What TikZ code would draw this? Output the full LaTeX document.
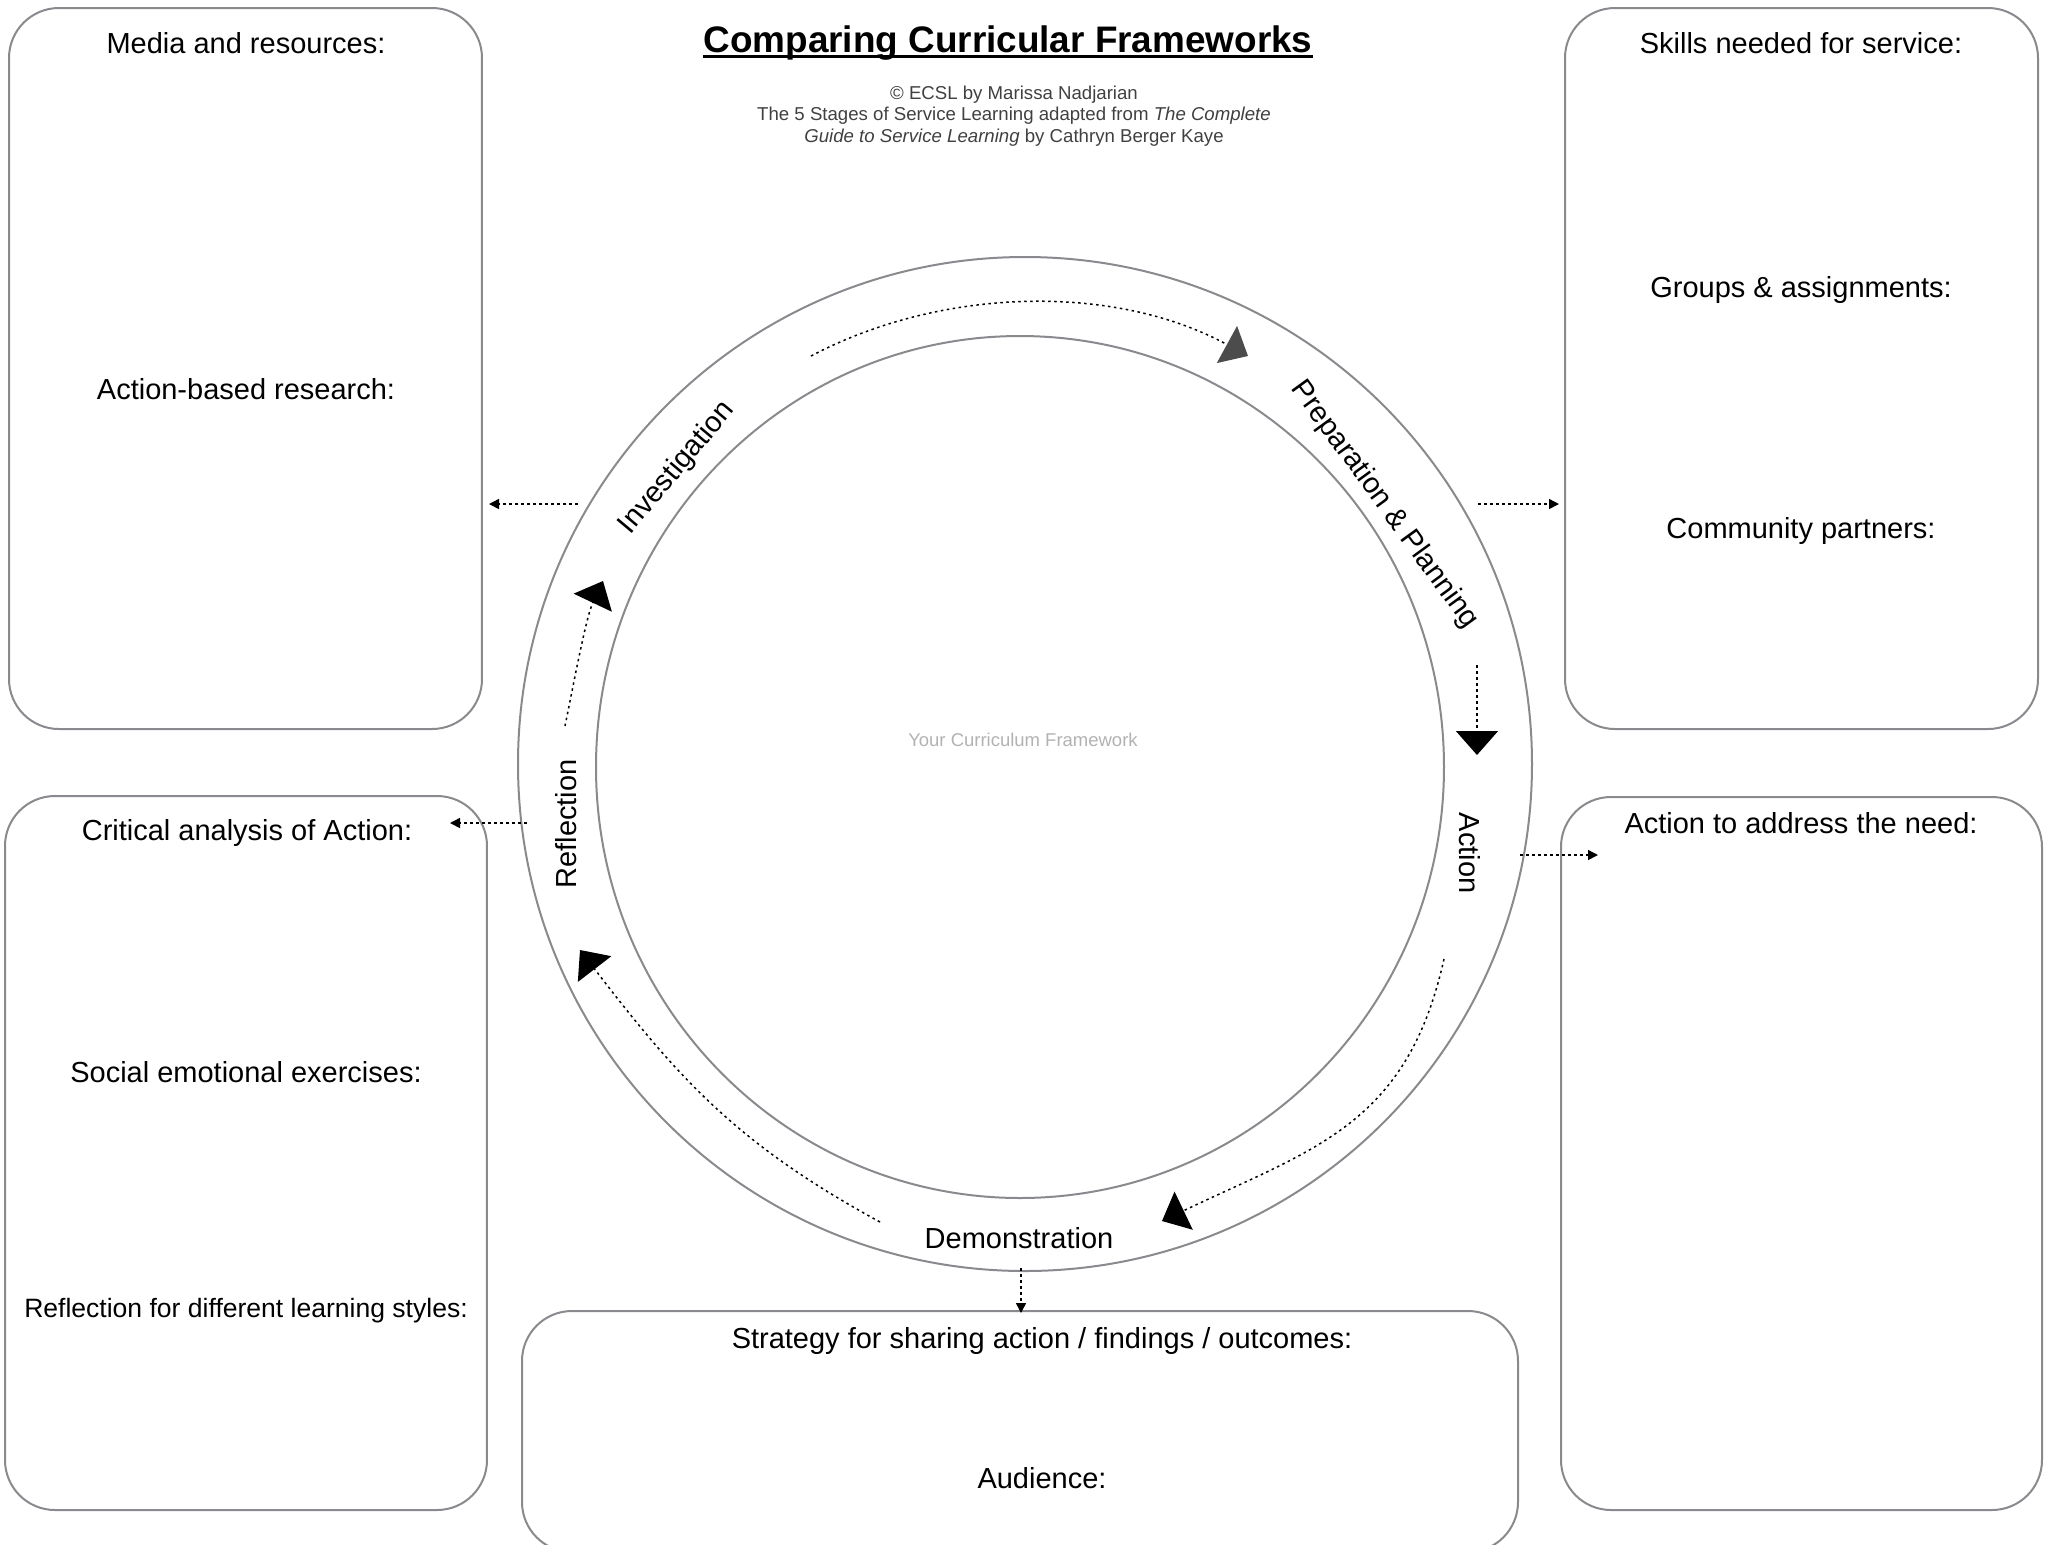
\documentclass[tikz,border=0pt]{standalone}
\usepackage{fontspec}
\setmainfont{Liberation Sans}
\usepackage{xcolor}
\usepackage{tikz}
\usetikzlibrary{arrows.meta}
\definecolor{framegray}{RGB}{136,138,142}

\begin{document}
\begin{tikzpicture}[x=0.1mm,y=-0.1mm,
  box/.style={draw=framegray,line width=0.2mm,rounded corners=5mm,inner sep=0pt},
  lbl/.style={inner sep=0pt,text height=2.1mm,text depth=0pt,font=\fontsize{8.25}{10}\selectfont},
  link/.style={line width=0.15mm,dash pattern=on 0.3mm off 0.3mm,-{Triangle[length=1mm,width=1mm]}},
  cyc/.style={line width=0.15mm,dash pattern=on 0.25mm off 0.35mm,-{Triangle[length=2.4mm,width=4.2mm]}}]
\useasboundingbox (0,0) rectangle (2049,1545);

\node [inner sep=0pt,anchor=base,font=\fontsize{10.5}{12}\selectfont\bfseries] (title) at (1008,52) {Comparing Curricular Frameworks};
\draw [line width=0.25mm] ([yshift=-0.45mm]title.base west) -- ([yshift=-0.45mm]title.base east);
\node [align=center,text=black!75,font=\fontsize{5.3}{6.1}\selectfont] (credit) at (1014,116)
  {© ECSL by Marissa Nadjarian\\The 5 Stages of Service Learning adapted from \textit{The Complete}\\\textit{Guide to Service Learning} by Cathryn Berger Kaye};

\node [box,minimum width=47.3mm,minimum height=72.1mm] (media) at (245.5,368.5) {};
\node [box,minimum width=47.3mm,minimum height=72.1mm] (skills) at (1801.5,368.5) {};
\node [box,minimum width=48.2mm,minimum height=71.4mm] (critical) at (246,1153) {};
\node [box,minimum width=48.1mm,minimum height=71.3mm] (need) at (1801.5,1153.5) {};
\node [box,minimum width=99.6mm,minimum height=24.1mm] (strategy) at (1020,1431.5) {};

\node [lbl] (mediaA) at (246,43) {Media and resources:};
\node [lbl] (mediaB) at (246,389) {Action-based research:};
\node [lbl] (skillsA) at (1801,43) {Skills needed for service:};
\node [lbl] (skillsB) at (1801,287) {Groups \& assignments:};
\node [lbl] (skillsC) at (1801,528) {Community partners:};
\node [lbl] (needA) at (1801,823) {Action to address the need:};
\node [lbl] (criticalA) at (247,830) {Critical analysis of Action:};
\node [lbl] (criticalB) at (246,1072) {Social emotional exercises:};
\node [lbl,font=\fontsize{7.55}{9}\selectfont] (criticalC) at (246,1307) {Reflection for different learning styles:};
\node [lbl] (strategyA) at (1042,1338) {Strategy for sharing action / findings / outcomes:};
\node [lbl] (strategyB) at (1042,1478) {Audience:};

\draw [framegray,line width=0.2mm] (1025,764) circle [radius=507];
\draw [framegray,line width=0.2mm] (1020,767) ellipse [x radius=424,y radius=431];
\node [text=black!30,font=\fontsize{5.26}{6}\selectfont] (core) at (1023,740) {Your Curriculum Framework};

\node [lbl,rotate=50] (invest) at (675,466) {Investigation};
\node [lbl,rotate=-54] (prep) at (1387,503) {Preparation \& Planning};
\node [lbl,rotate=-90] (act) at (1470,853) {Action};
\node [lbl] (demo) at (1019,1238) {Demonstration};
\node [lbl,rotate=90] (refl) at (566,824) {Reflection};

\coordinate (i0) at (578,504);  \coordinate (i1) at (489,504);
\coordinate (p0) at (1478,504); \coordinate (p1) at (1559,504);
\coordinate (a0) at (1520,855); \coordinate (a1) at (1598,855);
\coordinate (r0) at (527,823);  \coordinate (r1) at (450,823);
\coordinate (d0) at (1021,1268); \coordinate (d1) at (1021,1313);
\draw [link] (i0) -- (i1);
\draw [link] (p0) -- (p1);
\draw [link] (a0) -- (a1);
\draw [link] (r0) -- (r1);
\draw [link] (d0) -- (d1);

\coordinate (c1) at (811,356);   \coordinate (c2) at (1248,356);
\coordinate (c3) at (1477,665);  \coordinate (c4) at (1477,755);
\coordinate (c5) at (1444,959);  \coordinate (c6) at (1162,1221);
\coordinate (c7) at (880,1222);  \coordinate (c8) at (580,950);
\coordinate (c9) at (565,726);   \coordinate (c10) at (603,581);
\draw [cyc,-{Triangle[length=2.4mm,width=4.2mm,color=black!70]}] (c1) .. controls (944,286) and (1116,284) .. (c2);
\draw [cyc] (c3) -- (c4);
\draw [cyc] (c5) .. controls (1407,1125) and (1315,1148) .. (c6);
\draw [cyc] (c7) .. controls (737,1144) and (679,1079) .. (c8);
\draw [cyc] (c9) .. controls (573,687) and (586,617) .. (c10);
\end{tikzpicture}
\end{document}
